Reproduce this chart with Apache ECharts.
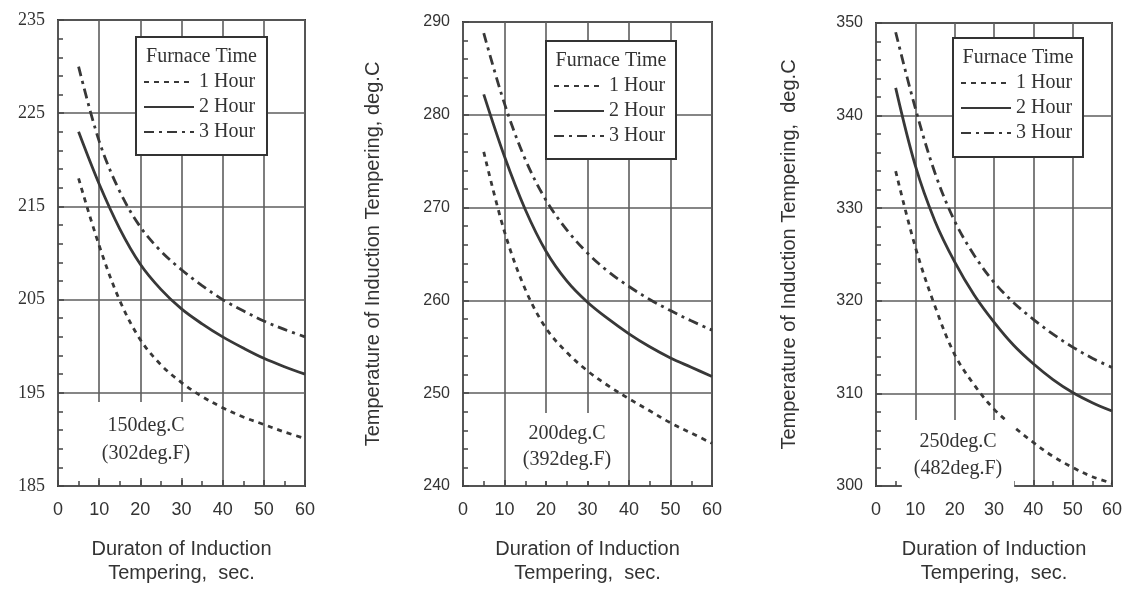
<!DOCTYPE html>
<html>
<head>
<meta charset="utf-8">
<script src="https://cdn.jsdelivr.net/npm/echarts@6/dist/echarts.min.js"></script>
<style>
  html, body { margin: 0; padding: 0; background: #fff; }
  #chart { width: 1127px; height: 590px; }
</style>
</head>
<body>
<div id="chart"></div>
<script>
// Induction tempering duration (s) at which each curve was sampled
const durations = [5, 10, 15, 20, 25, 30, 35, 40, 45, 50, 55, 60];
const xTicks = [0, 10, 20, 30, 40, 50, 60];
const seriesNames = ['1 Hour', '2 Hour', '3 Hour'];

// Furnace temper at 150 deg.C
const t150_1h = [218.0, 210.8, 204.9, 200.7, 198.0, 196.1, 194.6, 193.4, 192.4, 191.6, 190.8, 190.1];
const t150_2h = [223.0, 217.4, 212.6, 208.8, 206.1, 204.0, 202.4, 201.0, 199.8, 198.7, 197.8, 197.0];
const t150_3h = [230.0, 222.0, 216.6, 212.8, 210.2, 208.2, 206.5, 205.0, 203.8, 202.7, 201.8, 201.0];
const yTicks150 = [185, 195, 205, 215, 225, 235];

// Furnace temper at 200 deg.C
const t200_1h = [276.0, 267.4, 261.2, 257.0, 254.4, 252.4, 250.8, 249.4, 248.1, 246.8, 245.7, 244.6];
const t200_2h = [282.2, 275.5, 269.8, 265.3, 262.1, 259.8, 258.0, 256.4, 255.0, 253.8, 252.8, 251.8];
const t200_3h = [288.8, 281.2, 275.2, 270.8, 267.6, 265.1, 263.1, 261.5, 260.1, 258.9, 257.8, 256.8];
const yTicks200 = [240, 250, 260, 270, 280, 290];

// Furnace temper at 250 deg.C
const t250_1h = [334.0, 325.8, 319.4, 314.2, 310.9, 308.3, 306.4, 304.7, 303.2, 302.0, 301.0, 300.3];
const t250_2h = [343.0, 334.6, 328.6, 324.2, 320.6, 317.7, 315.2, 313.2, 311.5, 310.1, 309.0, 308.1];
const t250_3h = [349.0, 340.8, 333.8, 328.6, 324.9, 322.0, 319.8, 318.0, 316.4, 315.0, 313.8, 312.8];
const yTicks250 = [300, 310, 320, 330, 340, 350];

const notes = ['150deg.C\n(302deg.F)', '200deg.C\n(392deg.F)', '250deg.C\n(482deg.F)'];
const xNames = [
  'Duraton of Induction\nTempering,  sec.',
  'Duration of Induction\nTempering,  sec.',
  'Duration of Induction\nTempering,  sec.'
];
const yNames = ['', 'Temperature of Induction Tempering, deg.C', 'Temperature of Induction Tempering,  deg.C'];
const legendTitle = 'Furnace Time';

const SANS = 'Liberation Sans, Arial, sans-serif';
const SERIF = 'Liberation Serif, Times New Roman, serif';
const INK = '#333';
const CURVE = '#383838';
const dashes = [[5, 5], 'solid', [10, 5, 3, 5]];

// Panel layout: plot area, legend box and note placement
const panels = [
  { grid: { left: 58, top: 20, width: 247, height: 472 }, yTicks: yTicks150,
    values: [t150_1h, t150_2h, t150_3h], yFont: SERIF, yNameGap: 0,
    box: [136, 37, 131, 118], note: { x: 146, y: 440, lh: 28, pad: [12, 8, 8, 8] } },
  { grid: { left: 463, top: 22, width: 249, height: 470 }, yTicks: yTicks200,
    values: [t200_1h, t200_2h, t200_3h], yFont: SANS, yNameGap: 80,
    box: [546, 41, 130, 118], note: { x: 567, y: 447, lh: 26, pad: [10, 6, 6, 6] } },
  { grid: { left: 876, top: 23, width: 236, height: 472 }, yTicks: yTicks250,
    values: [t250_1h, t250_2h, t250_3h], yFont: SANS, yNameGap: 77,
    box: [953, 38, 130, 119], note: { x: 958, y: 455, lh: 27, pad: [10, 12, 6, 12] } }
];

const tickLine = { color: '#444', width: 1.5 };

const option = {
  backgroundColor: '#ffffff',
  animation: false,
  grid: panels.map(p => Object.assign({}, p.grid, {
    show: true, borderColor: '#383838', borderWidth: 2, backgroundColor: 'transparent'
  })),
  xAxis: panels.map((p, i) => ({
    gridIndex: i,
    type: 'value',
    min: xTicks[0],
    max: xTicks[xTicks.length - 1],
    interval: xTicks[1] - xTicks[0],
    axisLine: { show: false },
    axisTick: { show: true, inside: true, length: 6, lineStyle: tickLine },
    minorTick: { show: true, splitNumber: 2, length: 5, lineStyle: tickLine },
    splitLine: { show: true, lineStyle: { color: '#5e5e5e', width: 1.6 } },
    axisLabel: { margin: 15, fontFamily: SANS, fontSize: 18, color: INK },
    name: xNames[i],
    nameLocation: 'middle',
    nameGap: 51,
    nameTextStyle: { fontFamily: SANS, fontSize: 20, lineHeight: 24, color: INK }
  })),
  yAxis: panels.map((p, i) => ({
    gridIndex: i,
    type: 'value',
    min: p.yTicks[0],
    max: p.yTicks[p.yTicks.length - 1],
    interval: p.yTicks[1] - p.yTicks[0],
    axisLine: { show: false },
    axisTick: { show: true, inside: true, length: 6, lineStyle: tickLine },
    minorTick: { show: true, splitNumber: 5, length: 5, lineStyle: tickLine },
    splitLine: { show: true, lineStyle: { color: '#5e5e5e', width: 1.6 } },
    axisLabel: { margin: 13, fontFamily: p.yFont, fontSize: p.yFont === SERIF ? 18 : 16, color: INK },
    name: yNames[i],
    nameLocation: 'middle',
    nameGap: p.yNameGap,
    nameTextStyle: { fontFamily: SANS, fontSize: 20, color: INK }
  })),
  legend: panels.map(p => ({
    data: seriesNames,
    orient: 'vertical',
    left: p.box[0] + 7,
    top: p.box[1] + 35,
    padding: 0,
    itemWidth: 50,
    itemHeight: 20,
    itemGap: 5,
    selectedMode: false,
    z: 10,
    itemStyle: { opacity: 0 },
    lineStyle: { width: 2 },
    textStyle: { fontFamily: SERIF, fontSize: 20, lineHeight: 20, color: INK }
  })),
  series: [],
  graphic: []
};

panels.forEach((p, i) => {
  p.values.forEach((vals, j) => {
    option.series.push({
      type: 'line',
      name: seriesNames[j],
      xAxisIndex: i,
      yAxisIndex: i,
      data: durations.map((d, k) => [d, vals[k]]),
      smooth: 0.35,
      symbol: 'none',
      z: 2,
      itemStyle: { color: CURVE },
      lineStyle: { color: CURVE, width: 2.8, type: dashes[j] }
    });
  });

  // legend frame and heading
  option.graphic.push({
    type: 'rect', z: 3,
    shape: { x: p.box[0], y: p.box[1], width: p.box[2], height: p.box[3] },
    style: { fill: '#ffffff', stroke: '#333', lineWidth: 2 }
  });
  option.graphic.push({
    type: 'text', z: 10,
    x: p.box[0] + p.box[2] / 2, y: p.box[1] + 20,
    style: { text: legendTitle, fontFamily: SERIF, fontSize: 20, fill: INK,
             align: 'center', verticalAlign: 'middle' }
  });
  // furnace temperature note
  option.graphic.push({
    type: 'text', z: 10,
    x: p.note.x, y: p.note.y,
    style: { text: notes[i], fontFamily: SERIF, fontSize: 20, lineHeight: p.note.lh, fill: INK,
             align: 'center', verticalAlign: 'middle',
             backgroundColor: '#ffffff', padding: p.note.pad }
  });
});

const chart = echarts.init(document.getElementById('chart'), null, { renderer: 'canvas' });
chart.setOption(option);
</script>
</body>
</html>
